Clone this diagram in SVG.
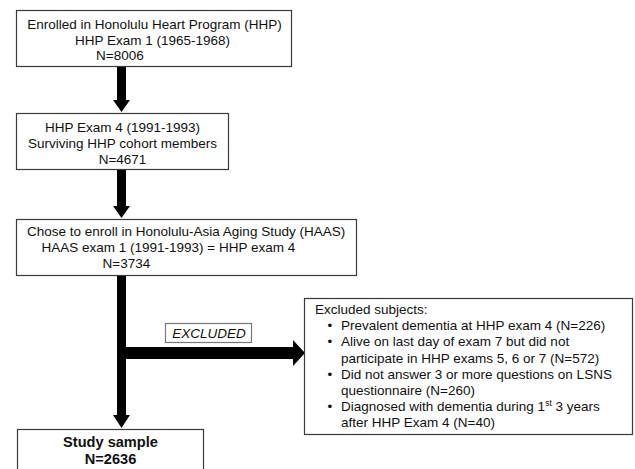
<svg xmlns="http://www.w3.org/2000/svg" width="635" height="469" viewBox="0 0 635 469">
<style>
  .box { fill: #ffffff; stroke: #3a3a3a; stroke-width: 1.2; }
  .lbl { fill: #ffffff; stroke: #777777; stroke-width: 1.2; }
  text { font-family: "Liberation Sans", Arial, sans-serif; font-size: 13.5px; fill: #111111; }
  .c { text-anchor: middle; }
  .b { font-weight: bold; font-size: 14.6px; }
  .i { font-style: italic; }
  .arrow { fill: #000000; }
</style>
<rect width="635" height="469" fill="#ffffff"/>
<g id="connectors">
  <polygon class="arrow" points="117,67 126,67 126,100 130,100 121.5,112 113,100 117,100"/>
  <polygon class="arrow" points="117,170 126,170 126,206 130,206 121.5,218 113,206 117,206"/>
  <polygon class="arrow" points="117,275 126,275 126,415 130,415 121.5,428 113,415 117,415"/>
  <polygon class="arrow" points="126,347 293,347 293,340 305,353 293,366 293,359 126,359"/>
</g>
<g id="n1">
  <rect class="box" x="16.5" y="10.5" width="275" height="56"/>
  <text class="c" x="154.5" y="29">Enrolled in Honolulu Heart Program (HHP)</text>
  <text class="c" x="152.5" y="44.5">HHP Exam 1 (1965-1968)</text>
  <text x="96" y="60">N=8006</text>
</g>
<g id="n2">
  <rect class="box" x="16.5" y="113.5" width="212" height="56"/>
  <text class="c" x="122.5" y="131.5">HHP Exam 4 (1991-1993)</text>
  <text class="c" x="122.5" y="147.5">Surviving HHP cohort members</text>
  <text class="c" x="122.5" y="163.5">N=4671</text>
</g>
<g id="n3">
  <rect class="box" x="16.5" y="219.5" width="340" height="56"/>
  <text x="27" y="236">Chose to enroll in Honolulu-Asia Aging Study (HAAS)</text>
  <text x="41.5" y="252">HAAS exam 1 (1991-1993) = HHP exam 4</text>
  <text x="102.5" y="267.5">N=3734</text>
</g>
<g id="excluded-label">
  <rect class="lbl" x="165.5" y="323.5" width="86" height="19"/>
  <text class="c i" x="209" y="337.5">EXCLUDED</text>
</g>
<g id="n-excluded">
  <rect class="box" x="304.5" y="298.5" width="328" height="136"/>
  <text x="315" y="314">Excluded subjects:</text>
  <text x="327.5" y="330.2">•</text>
  <text x="341" y="330.2">Prevalent dementia at HHP exam 4 (N=226)</text>
  <text x="327.5" y="346.4">•</text>
  <text x="341" y="346.4">Alive on last day of exam 7 but did not</text>
  <text x="341" y="362.6">participate in HHP exams 5, 6 or 7 (N=572)</text>
  <text x="327.5" y="378.8">•</text>
  <text x="341" y="378.8">Did not answer 3 or more questions on LSNS</text>
  <text x="341" y="395">questionnaire (N=260)</text>
  <text x="327.5" y="411.2">•</text>
  <text x="341" y="411.2">Diagnosed with dementia during 1<tspan font-size="8.5px" dy="-5">st</tspan><tspan dy="5"> 3 years</tspan></text>
  <text x="341" y="427.4">after HHP Exam 4 (N=40)</text>
</g>
<g id="n-study">
  <rect class="box" x="17.5" y="429.5" width="186" height="50"/>
  <text class="c b" x="110.5" y="446.5">Study sample</text>
  <text class="c b" x="110.5" y="463.5">N=2636</text>
</g>
</svg>
